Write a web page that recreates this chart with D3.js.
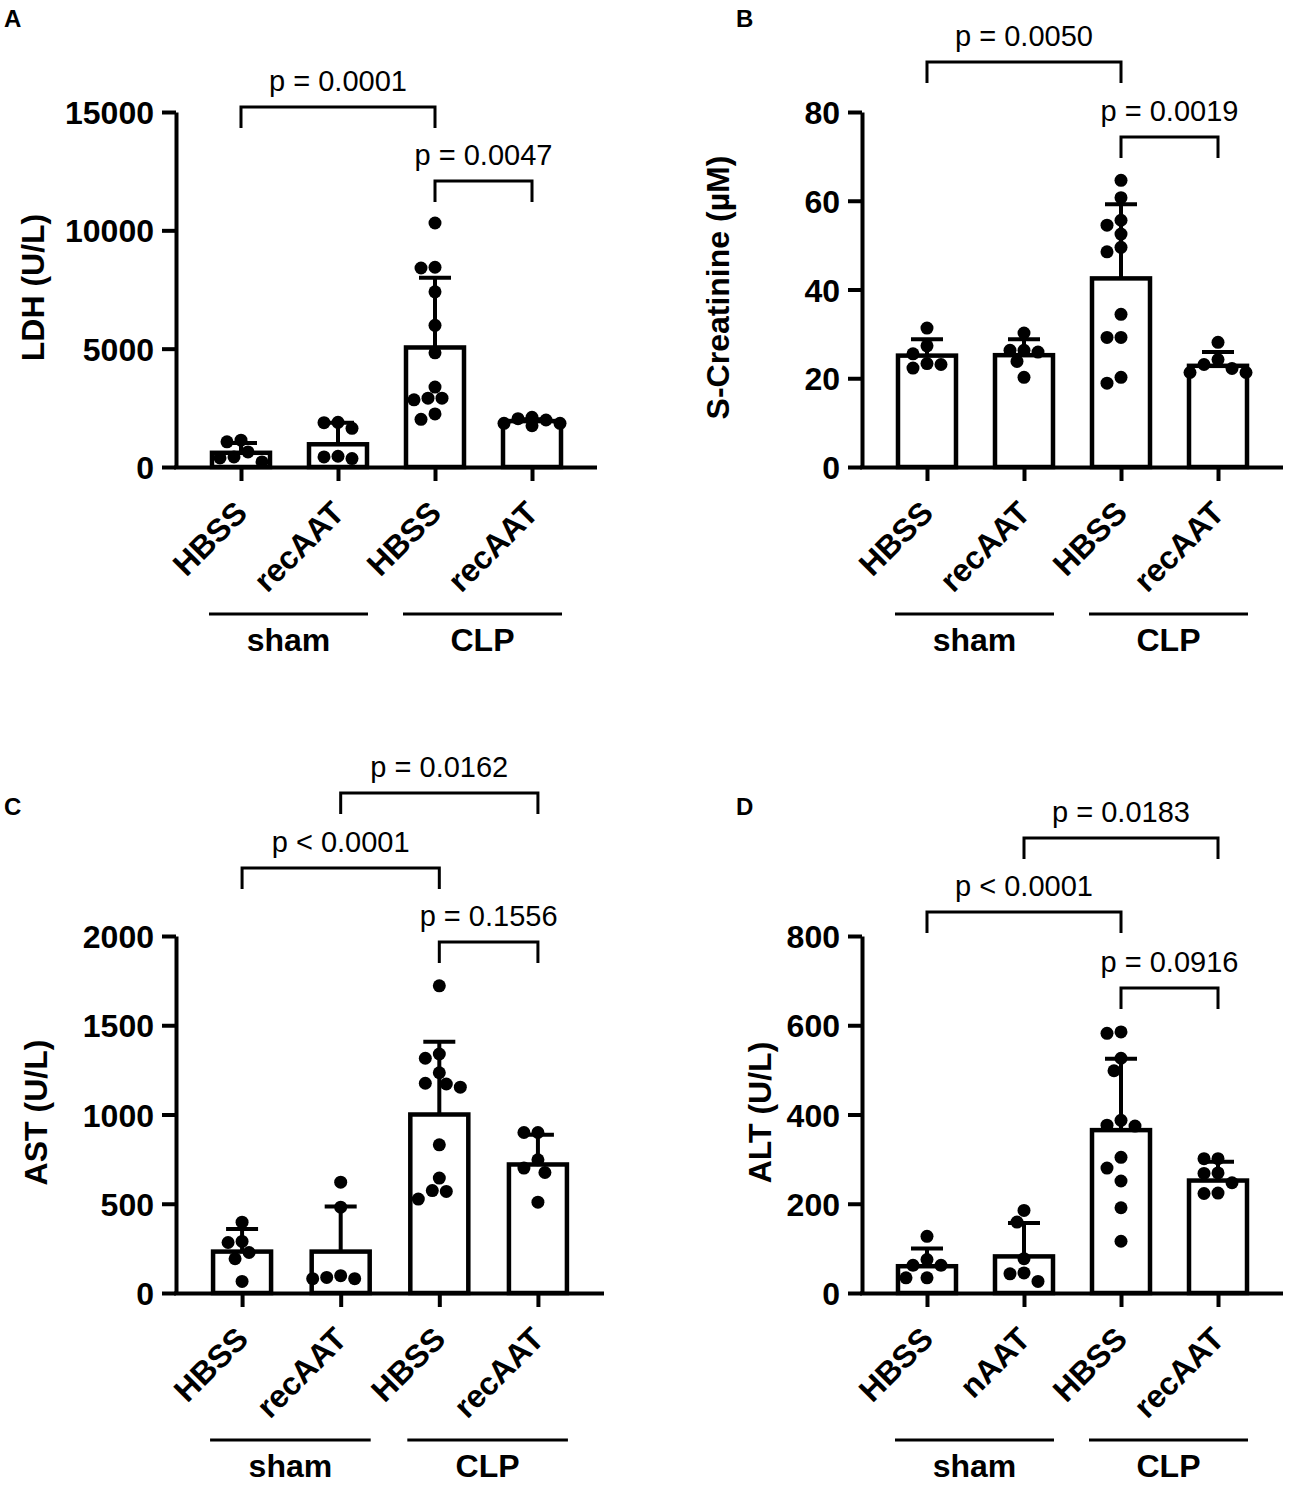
<!DOCTYPE html>
<html>
<head>
<meta charset="utf-8">
<script src="https://cdn.jsdelivr.net/npm/d3@7"></script>
<style>
  html, body { margin: 0; padding: 0; background: #fff; }
  svg text { font-family: "Liberation Sans", Arial, sans-serif; fill: #000; }
</style>
</head>
<body>
<script>
// ---- data ----
const groupNames = ['sham', 'CLP'];
const labelsABC = ['HBSS', 'recAAT', 'HBSS', 'recAAT'];
const labelsD = ['HBSS', 'nAAT', 'HBSS', 'recAAT'];

const ldhTicks = [0, 5000, 10000, 15000];
const ldhMean = [600, 960, 5050, 1940];
const ldhSD = [410, 915, 2950, 80];
const ldhPoints = [
  [1134, 1063, 638, 425, 383, 213],
  [1889, 1872, 1633, 455, 425, 357],
  [10310, 8439, 8409, 7401, 5985, 4823, 3377, 2909, 2909, 2837, 2241, 2016],
  [2101, 2042, 1986, 1846, 1846, 1744],
];
const ldhPairs = [[0, 2], [2, 3]];
const ldhP = ['p = 0.0001', 'p = 0.0047'];

const creTicks = [0, 20, 40, 60, 80];
const creMean = [25.1, 25.2, 42.5, 22.8];
const creSD = [3.7, 3.6, 16.7, 3.1];
const crePoints = [
  [31.3, 27.3, 25.5, 23.3, 23.1, 22.3],
  [30.2, 26.3, 26.3, 25.9, 23.8, 20.2],
  [64.6, 60.7, 55.6, 54.5, 52.5, 49.5, 48.5, 34.4, 29.2, 29.2, 20.2, 18.9],
  [28.1, 24.2, 23.1, 22.2, 21.3, 21.3],
];
const crePairs = [[0, 2], [2, 3]];
const creP = ['p = 0.0050', 'p = 0.0019'];

const astTicks = [0, 500, 1000, 1500, 2000];
const astMean = [232, 232, 1000, 720];
const astSD = [126, 253, 408, 166];
const astPoints = [
  [397, 289, 283, 227, 192, 65],
  [621, 481, 97, 87, 80, 80],
  [1721, 1339, 1315, 1234, 1175, 1171, 1153, 830, 644, 574, 569, 526],
  [899, 899, 746, 700, 675, 509],
];
const astPairs = [[1, 3], [0, 2], [2, 3]];
const astP = ['p = 0.0162', 'p < 0.0001', 'p = 0.1556'];

const altTicks = [0, 200, 400, 600, 800];
const altMean = [60, 82, 365, 252];
const altSD = [40, 75, 160, 42];
const altPoints = [
  [127, 75, 62, 62, 34, 34],
  [185, 159, 77, 45, 43, 26],
  [585, 582, 526, 498, 387, 376, 374, 304, 280, 251, 191, 116],
  [301, 301, 269, 268, 247, 224, 223],
];
const altPairs = [[1, 3], [0, 2], [2, 3]];
const altP = ['p = 0.0183', 'p < 0.0001', 'p = 0.0916'];

// ---- layout ----
const panels = [
  { letter: 'A', lx: 4, ly: 27, x0: 176, x1: 597, top: 112, base: 467, titleX: 44,
    title: 'LDH (U/L)', ticks: ldhTicks, labels: labelsABC, mean: ldhMean, sd: ldhSD,
    points: ldhPoints, pairs: ldhPairs, p: ldhP, levels: [360, 286] },
  { letter: 'B', lx: 736, ly: 27, x0: 862, x1: 1283, top: 112, base: 467, titleX: 729,
    title: 'S-Creatinine (µM)', ticks: creTicks, labels: labelsABC, mean: creMean, sd: creSD,
    points: crePoints, pairs: crePairs, p: creP, levels: [405, 330] },
  { letter: 'C', lx: 4, ly: 815, x0: 176, x1: 604, top: 936, base: 1293, titleX: 47,
    title: 'AST (U/L)', ticks: astTicks, labels: labelsABC, mean: astMean, sd: astSD,
    points: astPoints, pairs: astPairs, p: astP, levels: [500, 425, 351] },
  { letter: 'D', lx: 736, ly: 815, x0: 862, x1: 1283, top: 936, base: 1293, titleX: 771,
    title: 'ALT (U/L)', ticks: altTicks, labels: labelsD, mean: altMean, sd: altSD,
    points: altPoints, pairs: altPairs, p: altP, levels: [455, 381, 305] },
];

const svg = d3.select('body').append('svg')
  .attr('width', 1294)
  .attr('height', 1490);

// simple beeswarm: offsets in half-diameter steps, like Prism
function swarm(vals, y) {
  const placed = [];
  const steps = [0, -7, 7, -14, 14, -21, 21, -28, 28];
  return vals.map(v => {
    const py = y(v);
    let dx = 0;
    for (const s of steps) {
      if (placed.every(q => Math.hypot(q[0] - s, q[1] - py) >= 13)) { dx = s; break; }
    }
    placed.push([dx, py]);
    return dx;
  });
}

panels.forEach(pn => {
  const g = svg.append('g');
  const idx = d3.range(pn.labels.length);

  const x = d3.scalePoint().domain(idx).range([pn.x0, pn.x1]).padding(0.67);
  const y = d3.scaleLinear().domain([0, d3.max(pn.ticks)]).range([pn.base, pn.top]);

  g.append('text')
    .attr('x', pn.lx).attr('y', pn.ly)
    .attr('font-size', 24).attr('font-weight', 'bold')
    .text(pn.letter);

  // bars
  g.selectAll('rect.bar').data(pn.mean).join('rect')
    .attr('class', 'bar')
    .attr('x', (d, i) => x(i) - 29)
    .attr('width', 58)
    .attr('y', d => y(d))
    .attr('height', d => pn.base - y(d))
    .attr('fill', '#fff')
    .attr('stroke', '#000')
    .attr('stroke-width', 4.5);

  // error bars (upward only)
  const err = g.selectAll('g.err').data(pn.mean).join('g').attr('class', 'err');
  err.append('line')
    .attr('x1', (d, i) => x(i)).attr('x2', (d, i) => x(i))
    .attr('y1', d => y(d)).attr('y2', (d, i) => y(d + pn.sd[i]))
    .attr('stroke', '#000').attr('stroke-width', 4);
  err.append('line')
    .attr('x1', (d, i) => x(i) - 16).attr('x2', (d, i) => x(i) + 16)
    .attr('y1', (d, i) => y(d + pn.sd[i])).attr('y2', (d, i) => y(d + pn.sd[i]))
    .attr('stroke', '#000').attr('stroke-width', 4);

  // individual points
  pn.points.forEach((vals, i) => {
    const off = swarm(vals, y);
    g.selectAll(null).data(vals).join('circle')
      .attr('cx', (d, j) => x(i) + off[j])
      .attr('cy', d => y(d))
      .attr('r', 6.5)
      .attr('fill', '#000');
  });

  // axes
  const yAxis = g.append('g')
    .attr('transform', `translate(${pn.x0},0)`)
    .call(d3.axisLeft(y).tickValues(pn.ticks).tickFormat(d3.format('d')).tickSize(14).tickSizeOuter(0));
  yAxis.selectAll('path, line').attr('stroke', '#000').attr('stroke-width', 4);
  yAxis.selectAll('text')
    .attr('font-size', 32).attr('font-weight', 'bold')
    .attr('font-family', '"Liberation Sans", Arial, sans-serif')
    .attr('x', -22).attr('dy', '0.36em');

  const xAxis = g.append('g')
    .attr('transform', `translate(0,${pn.base})`)
    .call(d3.axisBottom(x).tickSize(14).tickSizeOuter(0).tickFormat(''));
  xAxis.selectAll('path, line').attr('stroke', '#000').attr('stroke-width', 4);
  xAxis.select('path').attr('d', `M${pn.x0 - 2},0.5H${pn.x1}`);

  g.selectAll('text.xl').data(pn.labels).join('text')
    .attr('class', 'xl')
    .attr('transform', (d, i) => `translate(${x(i) + 8},${pn.base + 48}) rotate(-45)`)
    .attr('text-anchor', 'end')
    .attr('font-size', 32).attr('font-weight', 'bold')
    .text(d => d);

  // y title
  g.append('text')
    .attr('transform', `translate(${pn.titleX},${(pn.top + pn.base) / 2 - 2}) rotate(-90)`)
    .attr('text-anchor', 'middle')
    .attr('font-size', 32).attr('font-weight', 'bold')
    .text(pn.title);

  // group lines below the labels
  groupNames.forEach((name, k) => {
    const a = x(k * 2), b = x(k * 2 + 1);
    g.append('line')
      .attr('x1', a - 32).attr('x2', b + 30)
      .attr('y1', pn.base + 147).attr('y2', pn.base + 147)
      .attr('stroke', '#000').attr('stroke-width', 3);
    g.append('text')
      .attr('x', (a + b) / 2 - 1).attr('y', pn.base + 184)
      .attr('text-anchor', 'middle')
      .attr('font-size', 32).attr('font-weight', 'bold')
      .text(name);
  });

  // significance brackets
  pn.pairs.forEach((pr, k) => {
    const by = pn.base - pn.levels[k];
    const a = x(pr[0]), b = x(pr[1]);
    g.append('path')
      .attr('d', `M${a},${by + 21}V${by}H${b}V${by + 21}`)
      .attr('fill', 'none').attr('stroke', '#000').attr('stroke-width', 3);
    g.append('text')
      .attr('x', (a + b) / 2).attr('y', by - 16)
      .attr('text-anchor', 'middle')
      .attr('font-size', 29)
      .text(pn.p[k]);
  });
});
</script>
</body>
</html>
